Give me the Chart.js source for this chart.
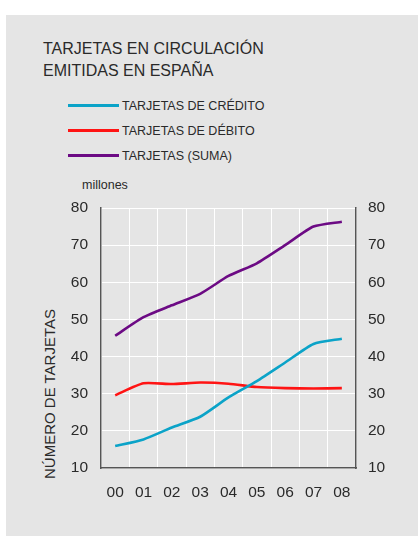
<!DOCTYPE html>
<html lang="es">
  <head>
  <meta charset="utf-8">
  <title>Tarjetas en circulación</title>
  <script src="https://cdn.jsdelivr.net/npm/chart.js@4.4.0/dist/chart.umd.min.js"></script>
  <style>
    body{
      margin: 0;
      background: #fff;
      font-family: "Liberation Sans", Arial, sans-serif;
      color: #2a2a2a;
    }
    #panel{
      position: absolute;
      left: 6px; top: 15px; right: 0; bottom: 0;
      background: #e5e5e5;
    }
    #title{
      position: absolute;
      left: 43px; top: 38px;
      font-size: 16px;
      line-height: 22px;
    }
    #legend{
      position: absolute;
      left: 68px; top: 93px;
    }
    #legend .row{
      display: flex;
      align-items: center;
      height: 25px;
    }
    #legend .swatch{
      width: 51px;
      height: 3px;
      margin-right: 3px;
    }
    #legend .lbl{
      font-size: 12.5px;
      line-height: 14px;
    }
    #unit{
      position: absolute;
      left: 82px; top: 178px;
      font-size: 12.5px;
      line-height: 14px;
    }
    #ytitle{
      position: absolute;
      left: -50px; top: 385px;
      width: 200px;
      text-align: center;
      font-size: 15px;
      line-height: 18px;
      transform: rotate(-90deg);
    }
    #myChart{
      position: absolute;
      left: 0; top: 0;
    }
  </style>
  </head>
  <body>
    <div id="panel"></div>
    <div id="title">TARJETAS EN CIRCULACIÓN<br>EMITIDAS EN ESPAÑA</div>
    <div id="legend"></div>
    <div id="unit">millones</div>
    <div id="ytitle">NÚMERO DE TARJETAS</div>
    <canvas id="myChart" width="418" height="536"></canvas>
  </body>
  <script>
    // データ（百万枚）
    const years = ["00","01","02","03","04","05","06","07","08"];
    const credito = [15.9, 17.7, 20.9, 23.8, 29.0, 33.4, 38.4, 43.4, 44.8];
    const debito  = [29.6, 32.8, 32.6, 33.0, 32.7, 31.8, 31.5, 31.4, 31.5];
    const suma    = [45.6, 50.6, 53.8, 56.9, 61.7, 65.1, 70.0, 75.0, 76.3];
    const seriesNames = ["TARJETAS DE CRÉDITO","TARJETAS DE DÉBITO","TARJETAS (SUMA)"];
    const seriesColors = ['#0ba3c8','#ff1414','#6c0a84'];
    const yTicks = [10,20,30,40,50,60,70,80];

    const tickFont = {family: '"Liberation Sans", Arial, sans-serif', size: 15.5};
    const axisColor = '#555';

    const datasets = [credito, debito, suma].map((d,i)=>({
      label: seriesNames[i],
      data: d,
      borderColor: seriesColors[i],
      backgroundColor: seriesColors[i],
      borderWidth: 2.6,
      pointRadius: 0,
      tension: 0.2,
      yAxisID: 'y'
    }));

    // HTML凡例
    const legend = document.getElementById("legend");
    datasets.forEach(ds=>{
      const row = document.createElement("div");
      row.className = "row";
      row.innerHTML = `<div class="swatch" style="background:${ds.borderColor}"></div><span class="lbl">${ds.label}</span>`;
      legend.appendChild(row);
    });

    Chart.defaults.plugins.legend.display = false;
    Chart.defaults.plugins.tooltip.enabled = false;

    new Chart(document.getElementById('myChart'), {
      type: 'line',
      data: {labels: years, datasets: datasets},
      options: {
        responsive: false,
        animation: false,
        layout: {padding: {top: 208, left: 0, right: 0, bottom: 0}},
        scales: {
          x: {
            offset: true,
            grid: {color: '#fff', lineWidth: 1, offset: true, drawTicks: false},
            border: {color: axisColor, width: 1.5},
            ticks: {color: '#2a2a2a', font: tickFont, padding: 15, maxRotation: 0},
            afterFit: s => { s.height = 68; }
          },
          y: {
            position: 'left',
            min: 10, max: 80,
            afterBuildTicks: s => { s.ticks = yTicks.map(v=>({value: v})); },
            grid: {color: '#fff', lineWidth: 1, drawTicks: false},
            border: {color: axisColor, width: 1.5},
            ticks: {color: '#2a2a2a', font: tickFont, padding: 13},
            afterFit: s => { s.width = 101; }
          },
          y2: {
            position: 'right',
            min: 10, max: 80,
            afterBuildTicks: s => { s.ticks = yTicks.map(v=>({value: v})); },
            grid: {drawOnChartArea: false, drawTicks: false},
            border: {color: axisColor, width: 1.5},
            ticks: {color: '#2a2a2a', font: tickFont, padding: 12},
            afterFit: s => { s.width = 62; }
          }
        }
      }
    });
  </script>
</html>
